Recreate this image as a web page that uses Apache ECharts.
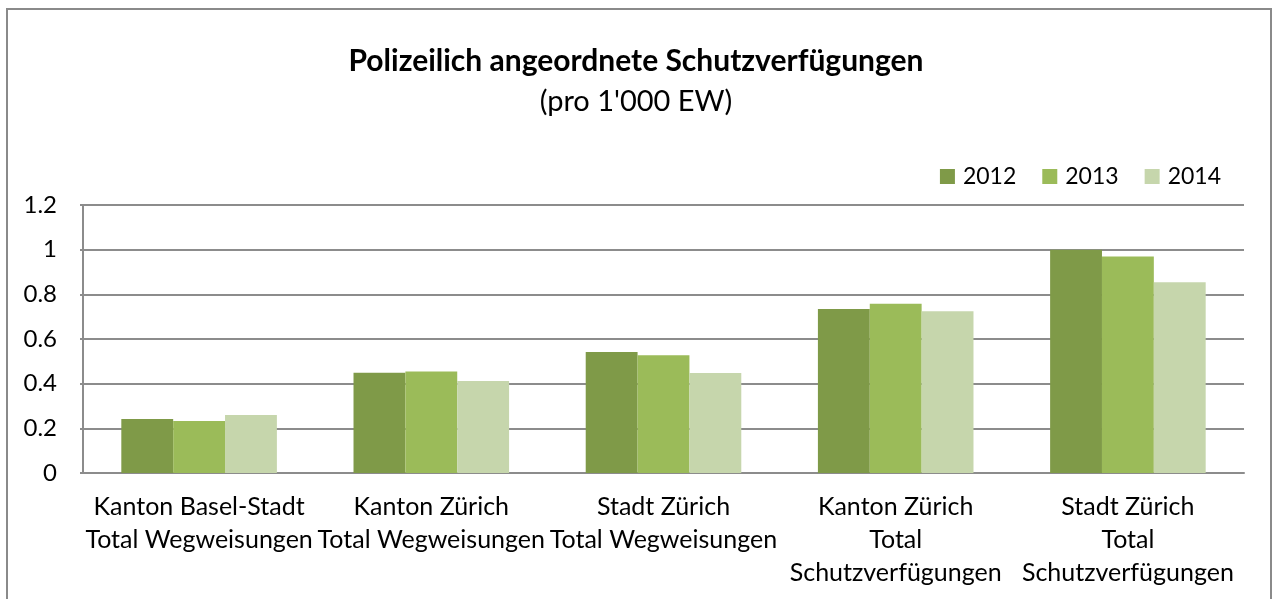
<!DOCTYPE html>
<html>
<head>
<meta charset="utf-8">
<script src="https://cdn.jsdelivr.net/npm/echarts@6/dist/echarts.min.js"></script>
<style>
html,body{margin:0;padding:0;background:#fff;}
#chart{width:1272px;height:599px;}
</style>
</head>
<body>
<div id="chart"></div>
<script>
const categories = [
  "Kanton Basel-Stadt\nTotal Wegweisungen",
  "Kanton Zürich\nTotal Wegweisungen",
  "Stadt Zürich\nTotal Wegweisungen",
  "Kanton Zürich\nTotal\nSchutzverfügungen",
  "Stadt Zürich\nTotal\nSchutzverfügungen"
];
const years = ["2012", "2013", "2014"];
const values2012 = [0.242, 0.449, 0.542, 0.734, 1.0];
const values2013 = [0.233, 0.454, 0.527, 0.758, 0.969];
const values2014 = [0.260, 0.412, 0.448, 0.724, 0.854];
const yTicks = [0, 0.2, 0.4, 0.6, 0.8, 1, 1.2];

const FONT = "Lato";
const colors = ["#7F9A48", "#9BBB59", "#C6D6AC"];
const seriesData = [values2012, values2013, values2014];

const chart = echarts.init(document.getElementById('chart'), null, {renderer: 'canvas'});
chart.setOption({
  animation: false,
  backgroundColor: '#ffffff',
  textStyle: {fontFamily: FONT},
  graphic: [{
    type: 'rect',
    shape: {x: 7, y: 9, width: 1264, height: 640},
    style: {fill: 'none', stroke: '#8a8a8a', lineWidth: 2},
    silent: true
  }],
  title: {
    text: 'Polizeilich angeordnete Schutzverfügungen',
    subtext: "(pro 1'000 EW)",
    left: 'center',
    top: 41,
    itemGap: 11,
    textStyle: {fontFamily: FONT, fontSize: 30, fontWeight: 'bold', color: '#000'},
    subtextStyle: {fontFamily: FONT, fontSize: 29, color: '#000'}
  },
  legend: {
    data: years,
    right: 46,
    top: 160,
    itemWidth: 15,
    itemHeight: 15,
    itemGap: 26,
    icon: 'rect',
    textStyle: {fontFamily: FONT, fontSize: 23, color: '#000', padding: [0, 0, 0, 3]}
  },
  grid: {left: 83, right: 28, top: 205, bottom: 126, containLabel: false},
  xAxis: {
    type: 'category',
    data: categories,
    axisLine: {show: true, lineStyle: {color: '#8c8c8c', width: 2}},
    axisTick: {show: false},
    axisLabel: {
      interval: 0,
      margin: 17,
      fontFamily: FONT,
      fontSize: 25,
      color: '#000',
      lineHeight: 33,
      verticalAlign: 'top'
    }
  },
  yAxis: {
    type: 'value',
    min: 0,
    max: 1.2,
    interval: 0.2,
    axisLine: {show: true, lineStyle: {color: '#8c8c8c', width: 2}},
    axisTick: {show: true, length: 3, lineStyle: {color: '#8c8c8c', width: 2}},
    splitLine: {show: true, lineStyle: {color: '#8c8c8c', width: 2}},
    axisLabel: {
      margin: 26,
      fontFamily: FONT,
      fontSize: 24,
      color: '#000',
      formatter: function (v) {
        const t = yTicks.find(x => Math.abs(x - v) < 1e-9);
        return t === undefined ? '' : String(t);
      }
    }
  },
  series: years.map((y, i) => ({
    name: y,
    type: 'bar',
    data: seriesData[i],
    barGap: '0%',
    barCategoryGap: '33%',
    itemStyle: {color: colors[i]},
    emphasis: {disabled: true}
  }))
});
</script>
</body>
</html>
